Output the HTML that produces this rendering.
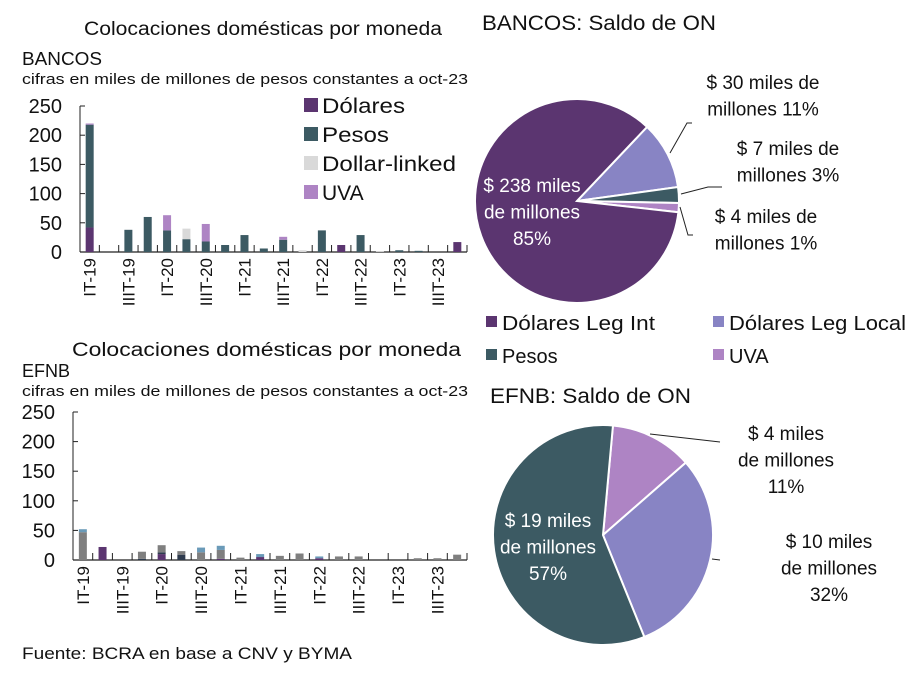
<!DOCTYPE html>
<html><head><meta charset="utf-8"><style>
body{margin:0;background:#fff;font-family:"Liberation Sans",sans-serif;}
svg text{font-family:"Liberation Sans",sans-serif;fill:#111;}
</style></head><body>
<svg id="s" width="924" height="679" viewBox="0 0 924 679" xmlns="http://www.w3.org/2000/svg">
<text x="84" y="35" font-size="19" textLength="358" lengthAdjust="spacingAndGlyphs">Colocaciones domésticas por moneda</text>
<text x="22" y="65" font-size="18" textLength="80" lengthAdjust="spacingAndGlyphs">BANCOS</text>
<text x="22" y="84" font-size="15" textLength="446" lengthAdjust="spacingAndGlyphs">cifras en miles de millones de pesos constantes a oct-23</text>
<text x="72" y="356" font-size="19" textLength="389" lengthAdjust="spacingAndGlyphs">Colocaciones domésticas por moneda</text>
<text x="22" y="377" font-size="18">EFNB</text>
<text x="22" y="396" font-size="15" textLength="446" lengthAdjust="spacingAndGlyphs">cifras en miles de millones de pesos constantes a oct-23</text>
<text x="482" y="30" font-size="21" textLength="234" lengthAdjust="spacingAndGlyphs">BANCOS: Saldo de ON</text>
<text x="490" y="403" font-size="21" textLength="201" lengthAdjust="spacingAndGlyphs">EFNB: Saldo de ON</text>
<text x="22" y="659" font-size="17" textLength="330" lengthAdjust="spacingAndGlyphs">Fuente: BCRA en base a CNV y BYMA</text>
<g>
<rect x="304" y="98" width="14" height="14" fill="#5b3570"/><text x="322" y="113" font-size="21" textLength="83" lengthAdjust="spacingAndGlyphs">Dólares</text>
<rect x="304" y="127" width="14" height="14" fill="#3c5a63"/><text x="322" y="142" font-size="21" textLength="67" lengthAdjust="spacingAndGlyphs">Pesos</text>
<rect x="304" y="156" width="14" height="14" fill="#d9d9d9"/><text x="322" y="171" font-size="21" textLength="134" lengthAdjust="spacingAndGlyphs">Dollar-linked</text>
<rect x="304" y="185" width="14" height="14" fill="#ae84c4"/><text x="322" y="200" font-size="21">UVA</text>
</g>
<g>
<rect x="486" y="316" width="11" height="11" fill="#5b3570"/><text x="502" y="330" font-size="20" textLength="153" lengthAdjust="spacingAndGlyphs">Dólares Leg Int</text>
<rect x="713" y="316" width="11" height="11" fill="#8884c4"/><text x="729" y="330" font-size="20" textLength="177" lengthAdjust="spacingAndGlyphs">Dólares Leg Local</text>
<rect x="486" y="349" width="11" height="11" fill="#3c5a63"/><text x="502" y="363" font-size="20">Pesos</text>
<rect x="713" y="349" width="11" height="11" fill="#ae84c4"/><text x="729" y="363" font-size="20">UVA</text>
</g>
</svg>
<script>
const categories=["IT-19","IIT-19","IIIT-19","IVT-19","IT-20","IIT-20","IIIT-20","IVT-20","IT-21","IIT-21","IIIT-21","IVT-21","IT-22","IIT-22","IIIT-22","IVT-22","IT-23","IIT-23","IIIT-23","IVT-23"];
const yTicks=[0,50,100,150,200,250];
const bDolares=[42,0,0,0,0,0,0,0,0,0,0,0,0,12,0,0,0,0,0,17];
const bPesos=[176,0,38,60,37,22,18,12,29,6,21,0,37,0,29,0,3,2,0,0];
const bDollarLinked=[0,0,0,0,0,18,0,0,0,0,0,3,0,0,0,1,0,0,0,0];
const bUVA=[2,0,0,0,26,0,30,0,0,0,5,0,0,0,0,0,0,0,0,0];
const eDolares=[0,22,0,0,10,0,0,2,0,5,0,0,3,0,0,0,0,0,0,0];
const eNavy=[0,0,0,2,3,9,0,0,0,0,0,0,0,0,0,0,0,0,0,0];
const eGris=[47,0,0,12,12,6,13,15,4,0,7,11,0,6,6,0,0,3,3,9];
const eAzul=[5,0,0,0,0,0,8,7,0,5,0,0,3,0,0,0,0,0,0,0];
const bancosPieValues=[30,7,4,238];
const bancosPieNames=["dolares-leg-local","pesos","uva","dolares-leg-int"];
const efnbPieValues=[4,10,19];
const efnbPieNames=["uva","dolares-leg-local","pesos"];

const NS="http://www.w3.org/2000/svg";const svg=document.getElementById('s');
function mk(t,a,p){const e=document.createElementNS(NS,t);for(const k in a)e.setAttribute(k,a[k]);(p||svg).appendChild(e);return e;}

function barChart(prefix,x0,x1,y0,yTop,series,colors,names){
  const g=mk('g',{});
  
  
  const n=categories.length,step=(x1-x0)/n;
  const ys=v=>y0-(v/250)*(y0-yTop);
  const xs=i=>x0+step*(i+0.5);
  const ax=mk('line',{x1:x0,y1:yTop,x2:x0,y2:y0,stroke:'#222','stroke-width':1},g);
  
  
  const xa=mk('line',{x1:x0,y1:y0,x2:x1,y2:y0,stroke:'#222','stroke-width':1.2},g);
  
  
  yTicks.forEach(t=>{
    const l=mk('line',{x1:x0,y1:ys(t),x2:x0+5,y2:ys(t),stroke:'#222'},g);
    
    
    const tx=mk('text',{x:x0-18,y:ys(t)+7,'font-size':20,'text-anchor':'end'},g);tx.textContent=t;
    
    
  });
  for(let i=0;i<=n;i++){
    const l=mk('line',{x1:x0+step*i,y1:y0,x2:x0+step*i,y2:y0-7,stroke:'#222'},g);
    
    
  }
  categories.forEach((c,i)=>{
    let acc=0;
    series.forEach((s,k)=>{
      if(s[i]>0){
        const r=mk('rect',{x:xs(i)-4,y:ys(acc+s[i]),width:8,height:ys(acc)-ys(acc+s[i]),fill:colors[k]},g);
        
        
      }
      acc+=s[i];
    });
    if(i%2===0){
      const tx=mk('text',{x:0,y:0,'font-size':17,'text-anchor':'end',transform:`translate(${xs(i)+6},${y0+6}) rotate(-90)`},g);
      tx.textContent=c;
      
      
    }
  });
}
barChart('bancos',80,467,252,106,[bDolares,bPesos,bDollarLinked,bUVA],['#5b3570','#3c5a63','#d9d9d9','#ae84c4'],['dolares','pesos','dollar-linked','uva']);
barChart('efnb',73,467,560,412,[eDolares,eNavy,eGris,eAzul],['#5b3570','#2e3b4e','#7f7f7f','#6a9ab8'],['dolares','pesos-navy','otros','azul']);

function pie(prefix,cx,cy,r,vals,names,colors,startDeg){
  const g=mk('g',{});
  
  
  const tot=vals.reduce((a,b)=>a+b,0);let a=startDeg*Math.PI/180;
  vals.forEach((v,i)=>{
    const a2=a-v/tot*2*Math.PI;
    const p1=[cx+r*Math.cos(a),cy-r*Math.sin(a)],p2=[cx+r*Math.cos(a2),cy-r*Math.sin(a2)];
    const large=(a-a2)>Math.PI?1:0;
    const p=mk('path',{d:`M${cx},${cy}L${p1[0]},${p1[1]}A${r},${r} 0 ${large} 1 ${p2[0]},${p2[1]}Z`,fill:colors[i],stroke:'#fff','stroke-width':2},g);
    
    
    a=a2;
  });
}
pie('bancos',577,201,102,bancosPieValues,bancosPieNames,['#8884c4','#3c5a63','#ae84c4','#5b3570'],46.6);
pie('efnb',603,535,110,efnbPieValues,efnbPieNames,['#ae84c4','#8884c4','#3c5a63'],84.8);

function label(lines,x,y,anchor,fill,size,name){
  const t=mk('text',{x:x,y:y,'font-size':size,'text-anchor':anchor,fill:fill});
  
  
  lines.forEach((l,i)=>{const s=mk('tspan',{x:x,dy:i?size*1.4:0,fill:fill},t);s.textContent=l;});
}
function lead(pts,name){const p=mk('polyline',{points:pts,fill:'none',stroke:'#222','stroke-width':1});
  
  }
label(['$ 238 miles','de millones','85%'],532,192,'middle','#fff',19,'bancos-label-dolares-int');
label(['$ 30 miles de','millones 11%'],763,89,'middle','#111',19,'bancos-label-dolares-local');
label(['$ 7 miles de','millones 3%'],788,155,'middle','#111',19,'bancos-label-pesos');
label(['$ 4 miles de','millones 1%'],766,223,'middle','#111',19,'bancos-label-uva');
lead('670,153 687,123 692,123','bancos-leader-local');
lead('681,194 708,187 722,187','bancos-leader-pesos');
lead('680,207 688,235 693,235','bancos-leader-uva');
label(['$ 19 miles','de millones','57%'],548,527,'middle','#fff',19,'efnb-label-pesos');
label(['$ 4 miles','de millones','11%'],786,440,'middle','#111',19,'efnb-label-uva');
label(['$ 10 miles','de millones','32%'],829,548,'middle','#111',19,'efnb-label-dolares-local');
lead('650,434 720,442','efnb-leader-uva');
lead('712,559 720,560','efnb-leader-local');
</script>
</body></html>
